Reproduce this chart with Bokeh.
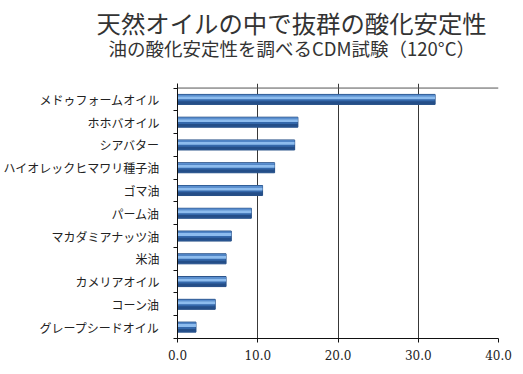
from bokeh.plotting import figure
from bokeh.models import (ColumnDataSource, Range1d, FixedTicker, NumeralTickFormatter,
                          Span, Title)
from bokeh.transform import dodge
from bokeh.embed import file_html
from bokeh.resources import INLINE

title_text = "天然オイルの中で抜群の酸化安定性"
subtitle_text = "油の酸化安定性を調べるCDM試験（120°C）"

oils = ["メドゥフォームオイル", "ホホバオイル", "シアバター", "ハイオレックヒマワリ種子油",
        "ゴマ油", "パーム油", "マカダミアナッツ油", "米油", "カメリアオイル",
        "コーン油", "グレープシードオイル"]
values = [32.1, 15.0, 14.6, 12.1, 10.6, 9.2, 6.7, 6.05, 6.05, 4.7, 2.3]
x_ticks = [0, 10, 20, 30, 40]

n = len(oils)
ypos = [n - 1 - i for i in range(n)]
src = ColumnDataSource(dict(y=ypos, v=values, name=oils))

p = figure(width=515, height=366, output_backend="svg", toolbar_location=None,
           x_range=Range1d(0, 40), y_range=Range1d(-0.5, n - 0.3),
           min_border_left=177, min_border_right=17, min_border_top=83,
           min_border_bottom=28)
p.outline_line_color = None
p.background_fill_color = "white"
p.border_fill_color = "white"

# bars with layered shading
p.hbar(y="y", right="v", left=0, height=0.44, source=src,
       fill_color="#3468ab", line_color="#264f86", line_width=1)
p.hbar(y=dodge("y", -0.14), right="v", left=0, height=0.12, source=src,
       fill_color="#244e88", line_color=None)
p.hbar(y=dodge("y", 0.07), right="v", left=0, height=0.13, source=src,
       fill_color="#8dbcee", line_color=None)
p.hbar(y=dodge("y", 0.175), right="v", left=0, height=0.06, source=src,
       fill_color="#5a8fd0", line_color=None)

# grid
p.ygrid.grid_line_color = None
p.xgrid.ticker = FixedTicker(ticks=x_ticks)
p.xgrid.grid_line_color = "#383838"
p.xgrid.grid_line_width = 1
p.xgrid.level = "underlay"
p.add_layout(Span(location=n - 0.5, dimension="width", line_color="#555555", line_width=1))

# x axis
xa = p.xaxis[0]
xa.ticker = FixedTicker(ticks=x_ticks)
xa.formatter = NumeralTickFormatter(format="0.0")
xa.major_tick_in = 0
xa.major_tick_out = 4
xa.minor_tick_line_color = None
xa.axis_line_color = "#111111"
xa.major_tick_line_color = "#111111"
xa.major_label_text_font = "DejaVu Serif"
xa.major_label_text_font_size = "12px"
xa.major_label_text_color = "#222222"
xa.major_label_standoff = 7

# y axis
ya = p.yaxis[0]
ya.ticker = FixedTicker(ticks=ypos, minor_ticks=[k - 0.5 for k in range(n + 1)])
ya.major_label_overrides = {yv: nm for yv, nm in zip(ypos, oils)}
ya.major_tick_in = 0
ya.major_tick_out = 0
ya.minor_tick_in = 0
ya.minor_tick_out = 4
ya.minor_tick_line_color = "#111111"
ya.axis_line_color = "#111111"
ya.major_label_text_font = "Noto Sans CJK JP"
ya.major_label_text_font_size = "12px"
ya.major_label_text_color = "#222222"
ya.major_label_standoff = 14

# titles: spacer (closest to the frame), subtitle, main title
p.add_layout(Title(text=" ", text_font_size="10px", standoff=15.5), "above")
p.add_layout(Title(text=subtitle_text, align="left", offset=-69,
                   text_font="Noto Sans CJK JP",
                   text_font_size="18.5px", text_font_style="normal",
                   text_color="#333333", standoff=-12.5), "above")
p.add_layout(Title(text=title_text, align="left", offset=-81,
                   text_font="Noto Sans CJK JP",
                   text_font_size="24.4px", text_font_style="normal",
                   text_color="#333333", standoff=-2.8), "above")

open("out.html", "w").write(file_html(p, INLINE))
